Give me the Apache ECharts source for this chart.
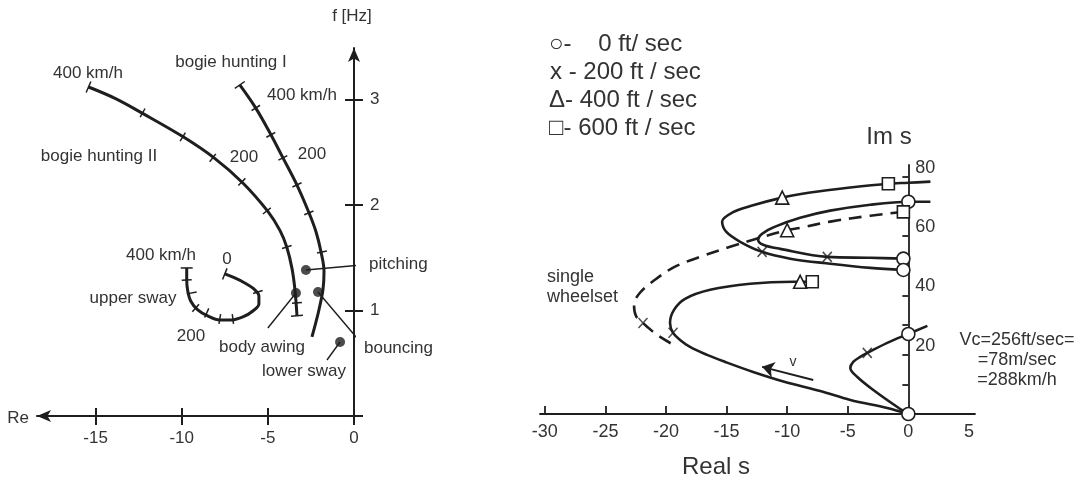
<!DOCTYPE html>
<html><head><meta charset="utf-8">
<script src="https://cdn.jsdelivr.net/npm/echarts@6/dist/echarts.min.js"></script>
<style>html,body{margin:0;padding:0;background:#fff}#c{width:1083px;height:483px}</style>
</head><body><div id="c"></div>
<script>
// ---------- LEFT PANEL DATA (Re, f[Hz]) ----------
const leftXTicks = [-15, -10, -5, 0];
const leftYTicks = [0, 1, 2, 3];
const leftYLabels = [1, 2, 3];
const bogieHuntingII = [[-15.41,3.12],[-13.84,3.01],[-12.27,2.87],[-9.94,2.65],[-8.14,2.45],[-6.45,2.21],[-5.0,1.94],[-4.3,1.76],[-3.9,1.60],[-3.6,1.40],[-3.43,1.20],[-3.31,0.95]];
const bogieHuntingIITicks = [[-12.27,2.875],[-9.94,2.647],[-8.2,2.448],[-6.51,2.22],[-5.06,1.945],[-3.9,1.603],[-3.31,1.072]];
const bogieHuntingIIEnds = [[-15.41,3.12],[-3.31,0.95]];
const bogieHuntingI = [[-6.63,3.14],[-5.7,2.92],[-4.83,2.67],[-4.13,2.45],[-3.31,2.19],[-2.62,1.93],[-2.21,1.75],[-1.92,1.56],[-1.74,1.37],[-1.8,1.20],[-2.03,1.01],[-2.21,0.89],[-2.44,0.75]];
const bogieHuntingITicks = [[-5.7,2.922],[-4.83,2.666],[-4.13,2.448],[-3.31,2.192],[-2.62,1.926],[-1.86,1.556]];
const bogieHuntingIEnds = [[-6.63,3.14]];
const upperSway = [[-7.5,1.347],[-6.92,1.309],[-6.34,1.262],[-5.81,1.205],[-5.52,1.139],[-5.52,1.063],[-5.87,0.996],[-6.45,0.939],[-7.09,0.911],[-7.79,0.911],[-8.49,0.949],[-9.07,1.006],[-9.48,1.091],[-9.65,1.186],[-9.71,1.29],[-9.71,1.404]];
const upperSwayTicks = [[-9.71,1.29],[-9.42,1.167],[-9.19,1.025],[-8.55,0.977],[-7.79,0.92],[-7.03,0.92],[-5.58,1.176]];
const upperSwayEnds = [[-9.71,1.404],[-7.5,1.347]];
const modeDots = [[-2.79,1.385],[-2.09,1.176],[-3.37,1.167],[-0.81,0.702]];
const leaderPitching = [[-2.79,1.385],[0.35,1.43]];
const leaderBouncing = [[-2.09,1.176],[0.17,0.74]];
const leaderBodyAwing = [[-3.37,1.167],[-5.0,0.835]];
const leaderLowerSway = [[-0.81,0.702],[-1.57,0.531]];

// ---------- RIGHT PANEL DATA (Real s, Im s) ----------
const rightXTicks = [-30, -25, -20, -15, -10, -5, 0];
const rightXLabels = [-30, -25, -20, -15, -10, -5, 0, 5];
const rightYTicks = [10, 20, 30, 40, 50, 60, 70, 80];
const rightYLabels = [20, 40, 60, 80];
const outerLoop = [[1.82,78.4],[0,78.0],[-1.65,77.7],[-4.79,76.4],[-8.1,74.7],[-10.41,73.0],[-12.89,70.3],[-14.55,67.9],[-15.37,64.9],[-15.04,61.5],[-13.88,58.1],[-12.07,54.7],[-9.75,52.4],[-6.45,50.7],[-3.14,49.3],[-0.41,48.6]];
const innerLoop = [[1.82,71.6],[0,71.6],[-3.14,70.6],[-6.45,68.6],[-8.93,66.2],[-10.99,63.2],[-12.07,60.8],[-12.4,58.8],[-11.98,57.1],[-10.58,55.7],[-6.69,53.0],[-3.14,52.7],[-0.41,52.4]];
const singleWheelset = [[-0.41,68.2],[-3.14,66.9],[-6.45,64.9],[-8.93,62.8],[-10.0,62.0],[-12.23,59.5],[-14.71,56.4],[-17.19,53.0],[-19.26,49.7],[-20.91,45.3],[-22.15,40.9],[-22.64,36.8],[-22.48,33.1],[-21.9,30.7],[-20.74,26.7],[-19.5,23.6]];
const mainBranch = [[0,0],[-1.74,2.03],[-4.79,4.73],[-7.27,7.77],[-10.17,10.81],[-12.81,14.19],[-15.12,17.57],[-16.61,19.93],[-18.02,22.64],[-18.84,25.0],[-19.42,27.36],[-19.67,30.74],[-19.34,35.14],[-18.43,38.85],[-16.36,41.89],[-13.06,43.92],[-9.5,44.59],[-8.93,44.59],[-7.93,44.59]];
const lowBranch = [[0,0],[-0.91,2.36],[-2.89,8.11],[-4.21,12.5],[-4.79,15.54],[-4.55,17.57],[-3.97,19.26],[-3.39,20.6],[-1.74,23.99],[0,27.03],[1.57,29.73]];
const speed0 = [[0,0],[0,27.0],[-0.41,52.4],[-0.41,48.6],[0,71.6]];
const speed200 = [[-12.07,54.7],[-6.69,53.0],[-21.9,30.7],[-19.42,27.4],[-3.39,20.6]];
const speed400 = [[-10.41,73.0],[-10.0,62.0],[-8.93,44.6]];
const speed600 = [[-1.65,77.7],[-0.41,68.2],[-7.93,44.6]];
const speedArrow = [[-7.85,11.5],[-12.07,15.9]];

const FONT = 'Liberation Sans, Arial, Helvetica, sans-serif';
const INK = '#1e1e1e';
const TXT = '#333';

// right grid geometry: the Im axis sits at Real = 0
const RX_MIN = -30.4, RX_MAX = 5.5, R_LEFT = 540, R_WIDTH = 435;
const R_ZERO_OFFSET = (0 - RX_MIN) / (RX_MAX - RX_MIN) * R_WIDTH;

const chart = echarts.init(document.getElementById('c'), null, {renderer: 'canvas'});

function curve(data, xi, w, dashed) {
  return {type: 'line', xAxisIndex: xi, yAxisIndex: xi, data: data, showSymbol: false, smooth: 0.35, clip: false,
    lineStyle: {color: INK, width: w, type: dashed ? [13, 8] : 'solid'}, z: 3, silent: true};
}
function leader(data) {
  return {type: 'line', xAxisIndex: 0, yAxisIndex: 0, data: data, showSymbol: false, clip: false,
    lineStyle: {color: INK, width: 1.4}, z: 3, silent: true};
}
function hashes(curveData, ticks, half) {
  return {
    type: 'custom', xAxisIndex: 0, yAxisIndex: 0, clip: false, z: 4, silent: true, data: ticks,
    renderItem: function (params, api) {
      const p = api.coord([api.value(0), api.value(1)]);
      const pts = curveData.map(function (c) { return api.coord(c); });
      let best = 0, bd = Infinity;
      pts.forEach(function (q, i) { const d = (q[0]-p[0])*(q[0]-p[0]) + (q[1]-p[1])*(q[1]-p[1]); if (d < bd) { bd = d; best = i; } });
      const a = pts[Math.max(0, best-1)], b = pts[Math.min(pts.length-1, best+1)];
      const dx = b[0]-a[0], dy = b[1]-a[1]; const L = Math.hypot(dx, dy) || 1;
      const nx = -dy/L*half, ny = dx/L*half;
      return {type: 'line', shape: {x1: p[0]-nx, y1: p[1]-ny, x2: p[0]+nx, y2: p[1]+ny}, style: {stroke: INK, lineWidth: 1.5}};
    }
  };
}
function marker(data, symbol, size, filled) {
  return {type: 'scatter', xAxisIndex: 2, yAxisIndex: 2, data: data, symbol: symbol, symbolSize: size, clip: false, z: 6, silent: true,
    itemStyle: {color: filled ? INK : '#fff', borderColor: INK, borderWidth: 1.6, opacity: 1}};
}
function txt(text, x, y, size, align, lineHeight) {
  const style = {text: text, font: size + 'px ' + FONT, fill: TXT, align: align || 'center', verticalAlign: 'middle'};
  if (lineHeight) style.lineHeight = lineHeight;
  return {type: 'text', x: x, y: y, silent: true, z: 10, style: style};
}

const axisBase = {type: 'value', splitLine: {show: false}};

const option = {
  animation: false,
  backgroundColor: '#fff',
  grid: [
    {left: 37, top: 48, width: 317, height: 368, outerBoundsMode: 'none', containLabel: false},
    {left: R_LEFT, top: 165, width: R_WIDTH, height: 249, outerBoundsMode: 'none', containLabel: false}
  ],
  xAxis: [
    Object.assign({}, axisBase, {gridIndex: 0, min: -18.4, max: 0, position: 'bottom',
      axisLine: {show: true, onZero: false, symbol: ['arrow', 'none'], symbolSize: [9, 14], lineStyle: {color: INK, width: 2}},
      axisTick: {show: true, customValues: leftXTicks, length: 9, lineStyle: {color: INK, width: 2}},
      axisLabel: {customValues: leftXTicks, margin: 14, fontSize: 17, color: TXT, fontFamily: FONT}}),
    Object.assign({}, axisBase, {gridIndex: 0, min: -18.4, max: 0, position: 'bottom',
      axisLine: {show: false, onZero: false},
      axisTick: {show: true, inside: true, customValues: leftXTicks, length: 8, lineStyle: {color: INK, width: 2}},
      axisLabel: {show: false}}),
    Object.assign({}, axisBase, {gridIndex: 1, min: RX_MIN, max: RX_MAX, position: 'bottom',
      axisLine: {show: true, onZero: false, lineStyle: {color: INK, width: 1.8}},
      axisTick: {show: true, inside: true, customValues: rightXTicks, length: 8, lineStyle: {color: INK, width: 1.8}},
      axisLabel: {customValues: rightXLabels, margin: 9, fontSize: 18, color: TXT, fontFamily: FONT}})
  ],
  yAxis: [
    Object.assign({}, axisBase, {gridIndex: 0, min: 0, max: 3.49, position: 'right',
      axisLine: {show: true, onZero: false, symbol: ['none', 'arrow'], symbolSize: [9, 14], lineStyle: {color: INK, width: 2}},
      axisTick: {show: true, customValues: leftYTicks, length: 9, lineStyle: {color: INK, width: 2}},
      axisLabel: {customValues: leftYLabels, margin: 16, fontSize: 17, color: TXT, fontFamily: FONT}}),
    Object.assign({}, axisBase, {gridIndex: 0, min: 0, max: 3.49, position: 'right',
      axisLine: {show: false, onZero: false},
      axisTick: {show: true, inside: true, customValues: leftYTicks, length: 9, lineStyle: {color: INK, width: 2}},
      axisLabel: {show: false}}),
    Object.assign({}, axisBase, {gridIndex: 1, min: 0, max: 84, position: 'left', offset: -R_ZERO_OFFSET,
      axisLine: {show: true, onZero: false, lineStyle: {color: INK, width: 1.8}},
      axisTick: {show: true, inside: false, customValues: rightYTicks, length: 6, lineStyle: {color: INK, width: 1.8}},
      axisLabel: {inside: true, customValues: rightYLabels, margin: 7, fontSize: 18, color: TXT, fontFamily: FONT, verticalAlign: 'bottom', lineHeight: 18}})
  ],
  series: [
    curve(bogieHuntingII, 0, 3),
    curve(bogieHuntingI, 0, 3),
    curve(upperSway, 0, 3),
    hashes(bogieHuntingII, bogieHuntingIITicks, 5),
    hashes(bogieHuntingII, bogieHuntingIIEnds, 6),
    hashes(bogieHuntingI, bogieHuntingITicks, 5),
    hashes(bogieHuntingI, bogieHuntingIEnds, 6),
    hashes(upperSway, upperSwayTicks, 5),
    hashes(upperSway, upperSwayEnds, 6),
    leader(leaderPitching), leader(leaderBouncing), leader(leaderBodyAwing), leader(leaderLowerSway),
    {type: 'scatter', xAxisIndex: 0, yAxisIndex: 0, data: modeDots, symbol: 'circle', symbolSize: 10, clip: false, z: 6, silent: true, itemStyle: {color: INK}},
    curve(outerLoop, 2, 2.6),
    curve(innerLoop, 2, 2.6),
    curve(singleWheelset, 2, 2.6, true),
    curve(mainBranch, 2, 2.6),
    curve(lowBranch, 2, 2.6),
    {type: 'lines', coordinateSystem: 'cartesian2d', xAxisIndex: 2, yAxisIndex: 2, clip: false, silent: true, z: 5,
      symbol: ['none', 'arrow'], symbolSize: 12,
      lineStyle: {color: INK, width: 2, opacity: 1}, data: [{coords: speedArrow}]},
    marker(speed0, 'circle', 13),
    marker(speed400, 'triangle', 13),
    marker(speed600, 'rect', 12),
    {type: 'scatter', xAxisIndex: 2, yAxisIndex: 2, data: speed200, symbol: 'path://M0,0L10,11M10,0L0,11', symbolSize: [9, 10], clip: false, z: 6, silent: true,
      itemStyle: {color: 'none', borderColor: INK, borderWidth: 1.6}}
  ],
  graphic: [
    // left panel
    txt('f [Hz]', 352, 16, 17),
    txt('Re', 18, 418, 17),
    txt('bogie hunting I', 231, 62, 17),
    txt('400 km/h', 88, 73, 17),
    txt('400 km/h', 302, 95, 17),
    txt('bogie hunting II', 99, 156, 17),
    txt('200', 244, 157, 17),
    txt('200', 312, 154, 17),
    txt('400 km/h', 161, 255, 17),
    txt('0', 227, 259, 17),
    txt('upper sway', 133, 298, 17),
    txt('200', 191, 336, 17),
    txt('body awing', 262, 347, 17),
    txt('lower sway', 304, 371, 17),
    txt('pitching', 369, 264, 17, 'left'),
    txt('bouncing', 364, 348, 17, 'left'),
    // right panel
    txt('○-    0 ft/ sec', 549, 44, 24, 'left'),
    txt('x - 200 ft / sec', 550, 72, 24, 'left'),
    txt('Δ- 400 ft / sec', 549, 100, 24, 'left'),
    txt('□- 600 ft / sec', 549, 128, 24, 'left'),
    txt('Im s', 889, 137, 24),
    txt('Real s', 716, 467, 24),
    txt('single\nwheelset', 547, 287, 18, 'left', 20),
    txt('Vc=256ft/sec=\n=78m/sec\n=288km/h', 1017, 360, 18, 'center', 20),
    txt('v', 793, 362, 14)
  ]
};
chart.setOption(option);
</script>
</body></html>
